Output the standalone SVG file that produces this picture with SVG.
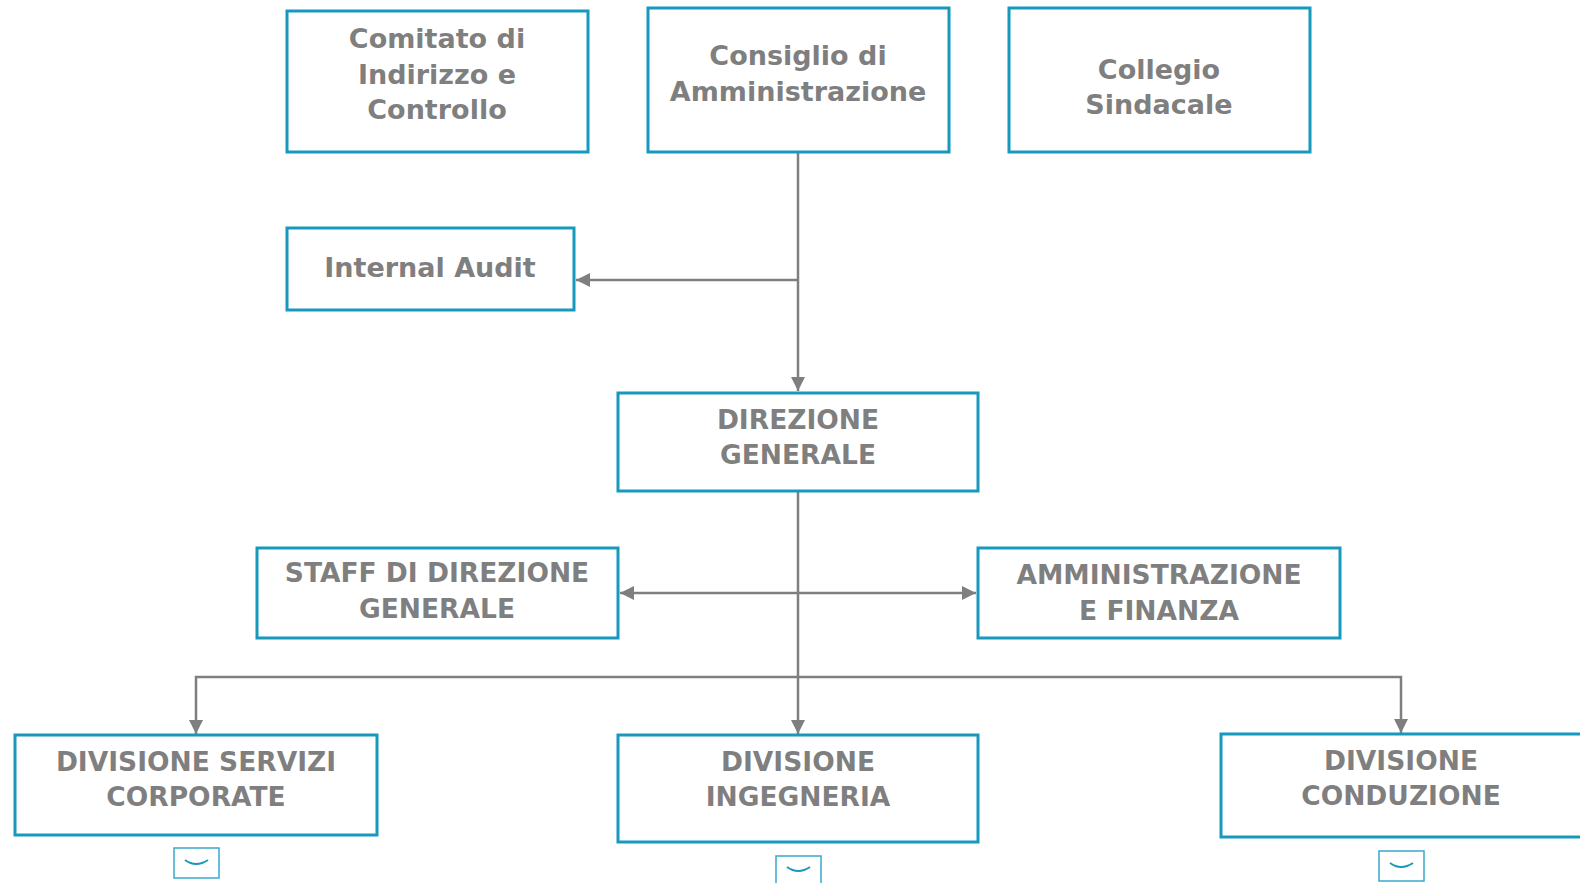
<svg xmlns="http://www.w3.org/2000/svg" width="1580" height="883" viewBox="0 0 1580 883">
<defs>
<style>
.box{fill:#fff;stroke:#1798bd;stroke-width:3}
.t{font-family:"DejaVu Sans","Liberation Sans",sans-serif;font-size:27px;font-weight:bold;fill:#7f7f7f;text-anchor:middle}
.u{font-size:26.5px}
.c{fill:none;stroke:#7f7f7f;stroke-width:2.5}
.ic{fill:#fff;stroke:#3aa9cc;stroke-width:1.5}
.chev{fill:none;stroke:#1798bd;stroke-width:2}
</style>
<marker id="ah" viewBox="0 0 14 14" refX="14" refY="7" markerWidth="14" markerHeight="14" markerUnits="userSpaceOnUse" orient="auto">
<path d="M0,0 L14,7 L0,14 z" fill="#7f7f7f"/>
</marker>
</defs>
<rect width="1580" height="883" fill="#fff"/>
<g id="connectors">
<path class="c" d="M798,152 V391" marker-end="url(#ah)"/>
<path class="c" d="M798,280 H576" marker-end="url(#ah)"/>
<path class="c" d="M798,491 V734" marker-end="url(#ah)"/>
<path class="c" d="M798,593 H620" marker-end="url(#ah)"/>
<path class="c" d="M798,593 H976" marker-end="url(#ah)"/>
<path class="c" d="M798,677 H196 V734" marker-end="url(#ah)"/>
<path class="c" d="M798,677 H1401 V733" marker-end="url(#ah)"/>
</g>
<g id="comitato"><rect class="box" x="287" y="11" width="301" height="141"/>
<text class="t" x="437" y="48">Comitato di</text><text class="t" x="437" y="84">Indirizzo e</text><text class="t" x="437" y="119">Controllo</text></g>
<g id="consiglio"><rect class="box" x="648" y="8" width="301" height="144"/>
<text class="t" x="798" y="65">Consiglio di</text><text class="t" x="798" y="101">Amministrazione</text></g>
<g id="collegio"><rect class="box" x="1009" y="8" width="301" height="144"/>
<text class="t" x="1159" y="79">Collegio</text><text class="t" x="1159" y="114">Sindacale</text></g>
<g id="internal-audit"><rect class="box" x="287" y="228" width="287" height="82"/>
<text class="t" x="430" y="277">Internal Audit</text></g>
<g id="direzione"><rect class="box" x="618" y="393" width="360" height="98"/>
<text class="t u" x="798" y="429">DIREZIONE</text><text class="t u" x="798" y="464">GENERALE</text></g>
<g id="staff"><rect class="box" x="257" y="548" width="361" height="90"/>
<text class="t u" x="437" y="582">STAFF DI DIREZIONE</text><text class="t u" x="437" y="618">GENERALE</text></g>
<g id="amministrazione"><rect class="box" x="978" y="548" width="362" height="90"/>
<text class="t u" x="1159" y="584">AMMINISTRAZIONE</text><text class="t u" x="1159" y="620">E FINANZA</text></g>
<g id="servizi"><rect class="box" x="15" y="735" width="362" height="100"/>
<text class="t u" x="196" y="771">DIVISIONE SERVIZI</text><text class="t u" x="196" y="806">CORPORATE</text></g>
<g id="ingegneria"><rect class="box" x="618" y="735" width="360" height="107"/>
<text class="t u" x="798" y="771">DIVISIONE</text><text class="t u" x="798" y="806">INGEGNERIA</text></g>
<g id="conduzione"><rect class="box" x="1221" y="734" width="362" height="103"/>
<text class="t u" x="1401" y="770">DIVISIONE</text><text class="t u" x="1401" y="805">CONDUZIONE</text></g>
<g id="icon-servizi"><rect class="ic" x="174" y="848" width="45" height="30"/><path class="chev" d="M185,860 Q196,868 208,860"/></g>
<g id="icon-ingegneria"><rect class="ic" x="776" y="856" width="45" height="30"/><path class="chev" d="M787,867 Q798,875 810,867"/></g>
<g id="icon-conduzione"><rect class="ic" x="1379" y="851" width="45" height="30"/><path class="chev" d="M1390,863 Q1401,871 1413,863"/></g>
</svg>
